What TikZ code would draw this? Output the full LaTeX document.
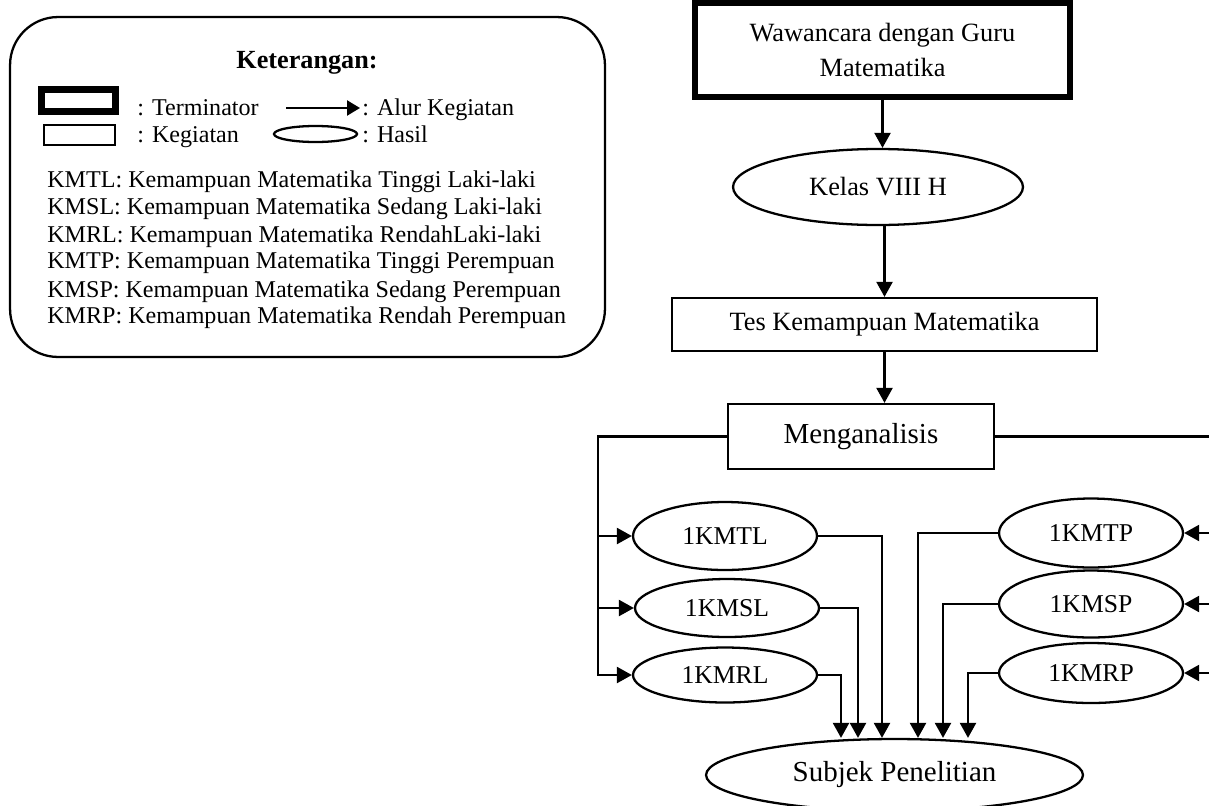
\documentclass[tikz,border=0pt]{standalone}
\usepackage{fontspec}
\setmainfont{Liberation Serif}
\usetikzlibrary{shapes.geometric,arrows.meta,calc}

\begin{document}
\begin{tikzpicture}[
  x=0.02cm, y=-0.02cm,
  term/.style={
    draw, line width=3.4pt, rectangle, align=center,
    minimum width=7.5cm, minimum height=1.88cm, inner sep=0pt,
    font=\fontsize{15}{19.8}\selectfont
  },
  proc/.style={
    draw, line width=1.3pt, rectangle, align=center, inner sep=0pt,
    font=\fontsize{15}{18}\selectfont
  },
  res/.style={
    draw, line width=1.3pt, ellipse, inner sep=0pt,
    minimum width=3.68cm, font=\fontsize{14.6}{17}\selectfont
  },
  key/.style={anchor=base west, inner sep=0pt, font=\fontsize{13.7}{15.4}\selectfont},
  arr/.style={-{Triangle[length=0.3cm, width=0.32cm]}, line width=1.3pt}
]
\useasboundingbox (0,0) rectangle (1209,805);

%% -- Legend ------------------------------------------------------
\node[draw, line width=1.3pt, rounded corners=0.96cm,
  minimum width=11.9cm, minimum height=6.8cm] (lgd) at (307.5,187) {};
\node[anchor=base, inner sep=0pt, font=\fontsize{14.9}{17}\selectfont\bfseries]
  (ktr) at (307,68) {Keterangan:};

\node[draw, line width=4pt, minimum width=1.48cm, minimum height=0.44cm,
  inner sep=0pt] (lterm) at (78.5,100.5) {};
\node[key] (ltermt) at (137,115) {: Terminator};
\node[draw, line width=1.3pt, minimum width=1.42cm, minimum height=0.4cm,
  inner sep=0pt] (lproc) at (79.5,135) {};
\node[key] (lproct) at (137,142) {: Kegiatan};

\coordinate (lalura) at (286,108);
\coordinate (lalurb) at (360,108);
\draw[arr, -{Triangle[length=0.26cm, width=0.3cm]}] (lalura) -- (lalurb);
\node[key] (lalurt) at (362,115) {: Alur Kegiatan};
\node[draw, ellipse, line width=1.3pt, minimum width=1.66cm, minimum height=0.32cm,
  inner sep=0pt] (lres) at (315.5,134) {};
\node[key] (lrest) at (362,142) {: Hasil};

\node[key] (ab1) at (47,187) {KMTL: Kemampuan Matematika Tinggi Laki-laki};
\node[key] (ab2) at (47,214) {KMSL: Kemampuan Matematika Sedang Laki-laki};
\node[key] (ab3) at (47,242) {KMRL: Kemampuan Matematika RendahLaki-laki};
\node[key] (ab4) at (47,268) {KMTP: Kemampuan Matematika Tinggi Perempuan};
\node[key] (ab5) at (47,297) {KMSP: Kemampuan Matematika Sedang Perempuan};
\node[key] (ab6) at (47,323) {KMRP: Kemampuan Matematika Rendah Perempuan};

%% -- Main flow ---------------------------------------------------
\node[term] (wwc) at (882.5,50) {Wawancara dengan Guru\\Matematika};
\node[res, minimum width=5.8cm, minimum height=1.52cm,
  font=\fontsize{15}{18}\selectfont] (kls) at (878,187) {Kelas VIII H};
\node[proc, minimum width=8.5cm, minimum height=1.06cm] (tes) at (884.5,324.5)
  {Tes Kemampuan Matematika};
\node[proc, minimum width=5.32cm, minimum height=1.3cm,
  font=\fontsize{16.5}{19}\selectfont] (men) at (861,436.5) {Menganalisis};

\draw[arr] (wwc.south) -- (wwc.south |- kls.north);
\draw[arr] (tes.north |- kls.south) -- (tes.north);
\draw[arr] (tes.south) -- (tes.south |- men.north);

%% -- Results -----------------------------------------------------
\node[res, minimum height=1.36cm] (ktl) at (725,536) {1KMTL};
\node[res, minimum height=1.16cm] (ksl) at (727,608) {1KMSL};
\node[res, minimum height=1.1cm]  (krl) at (725,675) {1KMRL};
\node[res, minimum height=1.38cm] (ktp) at (1091,533) {1KMTP};
\node[res, minimum height=1.34cm] (ksp) at (1091,604) {1KMSP};
\node[res, minimum height=1.2cm]  (krp) at (1091,673) {1KMRP};
\node[res, minimum width=7.54cm, minimum height=1.44cm,
  font=\fontsize{16.5}{19}\selectfont] (sbj) at (894.5,775) {Subjek Penelitian};

\draw[arr] (men.west) -- ++(-129,0) coordinate (lt) |- (krl.west);
\draw[arr] (lt |- ktl.west) -- (ktl.west);
\draw[arr] (lt |- ksl.west) -- (ksl.west);

\draw[arr] (men.east) -- ++(222,0) coordinate (rt) |- (krp.east);
\draw[arr] (rt |- ktp.east) -- (ktp.east);
\draw[arr] (rt |- ksp.east) -- (ksp.east);

\draw[arr] (ktl.east) -| ($(sbj.north)+(-12.5,0)$);
\draw[arr] (ksl.east) -| ($(sbj.north)+(-36.5,0)$);
\draw[arr] (krl.east) -| ($(sbj.north)+(-53.5,0)$);
\draw[arr] (ktp.west) -| ($(sbj.north)+(23.5,0)$);
\draw[arr] (ksp.west) -| ($(sbj.north)+(48.5,0)$);
\draw[arr] (krp.west) -| ($(sbj.north)+(73.5,0)$);

\end{tikzpicture}
\end{document}
